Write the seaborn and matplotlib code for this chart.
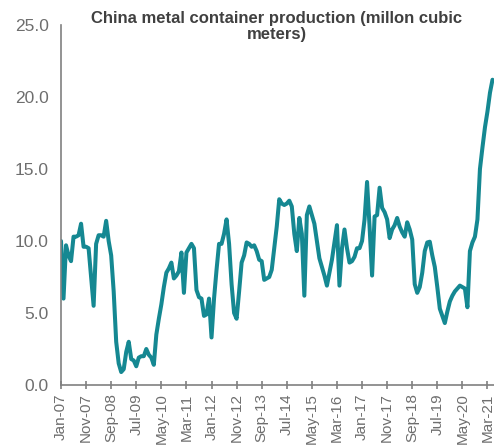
import matplotlib
matplotlib.use("Agg")
import matplotlib.pyplot as plt
import seaborn as sns
import pandas as pd

# Monthly index from Jan-07 (0) to May-21 (172)
values = [
    10.0, 6.0, 9.7, 9.0, 8.6, 10.3, 10.3, 10.4, 11.2, 9.6, 9.6, 9.5,      # 2007
    7.5, 5.5, 9.8, 10.4, 10.4, 10.3, 11.4, 10.0, 9.0, 6.5, 3.0, 1.5,      # 2008
    0.9, 1.1, 2.3, 3.0, 1.8, 1.7, 1.3, 1.9, 2.0, 2.0, 2.5, 2.1,           # 2009
    1.9, 1.4, 3.5, 4.6, 5.6, 6.8, 7.8, 8.1, 8.5, 7.4, 7.6, 7.9,           # 2010
    9.2, 6.4, 9.2, 9.5, 9.8, 9.5, 6.6, 6.1, 6.0, 4.8, 4.9, 6.0,           # 2011
    3.3, 6.0, 8.0, 9.8, 9.8, 10.5, 11.5, 9.8, 7.0, 5.0, 4.6, 6.5,         # 2012
    8.5, 9.0, 9.9, 9.8, 9.6, 9.7, 9.3, 8.7, 8.6, 7.3, 7.4, 7.5,           # 2013
    8.0, 9.5, 11.0, 12.9, 12.6, 12.5, 12.6, 12.8, 12.4, 10.5, 9.3, 11.6,  # 2014
    10.5, 6.2, 11.8, 12.4, 11.8, 11.2, 10.0, 8.8, 8.2, 7.6, 6.9, 7.8,     # 2015
    8.7, 9.9, 11.1, 6.9, 9.5, 10.8, 9.5, 8.5, 8.6, 8.9, 9.5, 9.5,         # 2016
    10.0, 11.5, 14.1, 11.0, 7.6, 11.7, 11.8, 13.7, 12.3, 12.0, 11.5, 10.2,# 2017
    10.8, 11.1, 11.6, 11.0, 10.6, 10.3, 11.3, 10.8, 10.1, 7.0, 6.4, 6.8,  # 2018
    7.8, 9.3, 9.9, 9.95, 9.0, 8.2, 6.8, 5.3, 4.8, 4.3, 5.1, 5.8,          # 2019
    6.2, 6.5, 6.7, 6.9, 6.8, 6.7, 5.4, 9.3, 9.9, 10.3, 11.5, 15.0,        # 2020
    16.5, 17.9, 19.0, 20.3, 21.2,                                         # 2021
]
months = list(range(len(values)))

tick_positions = list(range(0, 171, 10))
tick_labels = ["Jan-07", "Nov-07", "Sep-08", "Jul-09", "May-10", "Mar-11",
               "Jan-12", "Nov-12", "Sep-13", "Jul-14", "May-15", "Mar-16",
               "Jan-17", "Nov-17", "Sep-18", "Jul-19", "May-20", "Mar-21"]
y_ticks = [0, 5, 10, 15, 20, 25]
title = "China metal container production (millon cubic\nmeters)"

df = pd.DataFrame({"month": months, "value": values})

sns.set_theme(style="white")
plt.rcParams["font.family"] = ["Liberation Sans", "DejaVu Sans"]

W, H = 494, 448
fig = plt.figure(figsize=(W / 100, H / 100), dpi=100)
ax = fig.add_axes([61 / W, 1 - 385 / H, 1 - 61 / W, (385 - 25) / H])

sns.lineplot(data=df, x="month", y="value", ax=ax, color="#158892",
             linewidth=2.9)

ax.set_xlim(0, 172.6)
ax.set_ylim(0, 25)
ax.set_xticks(tick_positions)
ax.set_xticklabels(tick_labels, rotation=90, fontsize=11, color="#6e6e6e")
ax.set_yticks(y_ticks)
ax.set_yticklabels([f"{v:.1f}" for v in y_ticks], fontsize=12.5, color="#6e6e6e")
ax.set_xlabel("")
ax.set_ylabel("")

for s in ["top", "right"]:
    ax.spines[s].set_visible(False)
for s in ["left", "bottom"]:
    ax.spines[s].set_color("#808080")
    ax.spines[s].set_linewidth(1.2)

ax.tick_params(axis="x", direction="inout", length=6, width=1.2, color="#808080", pad=3, bottom=True)
ax.tick_params(axis="y", length=0, pad=9)

fig.text(277 / W, 1 - 11 / H, title, ha="center", va="top", fontsize=12,
         fontweight="bold", color="#404040", linespacing=1.1)

fig.savefig("out.png", dpi=100)
